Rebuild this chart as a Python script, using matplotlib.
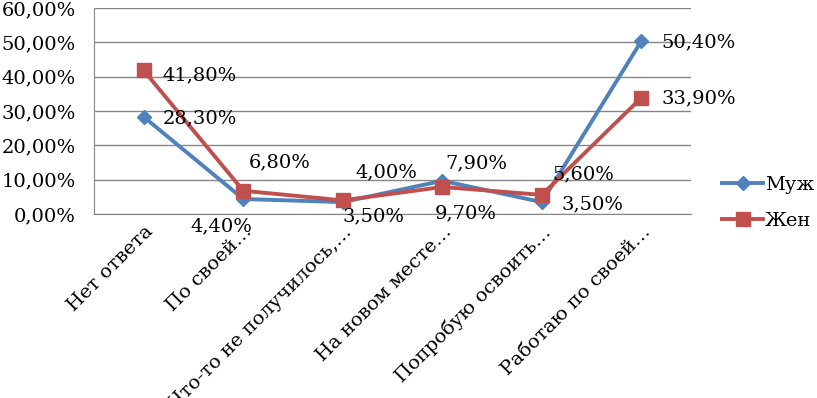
import matplotlib
matplotlib.use('Agg')
import matplotlib.pyplot as plt

plt.rcParams['font.family'] = ['DejaVu Serif']

categories = ['Нет ответа', 'По своей…', 'Что-то не получилось,…',
              'На новом месте…', 'Попробую освоить…', 'Работаю по своей…']
men = [28.3, 4.4, 3.5, 9.7, 3.5, 50.4]
women = [41.8, 6.8, 4.0, 7.9, 5.6, 33.9]
yticks = [0, 10, 20, 30, 40, 50, 60]

# label offsets in pixels (dx to left edge of text, dy to text centre)
men_off = [(19, -1), (-53, -27), (0, -14), (-8, -33), (20, -2), (20, -1)]
women_off = [(19, -5), (5, 28), (13, 28), (3, 24), (10, 21), (20, -1)]

blue = '#4F81BD'
red = '#C0504D'
fs = 14

fig = plt.figure(figsize=(8.17, 3.98), dpi=100)
ax = fig.add_axes([0.115, 0.462, 0.731, 0.518])

x = list(range(len(categories)))
l1, = ax.plot(x, men, color=blue, lw=2.8, marker='D', markersize=7.5, label='Муж')
l2, = ax.plot(x, women, color=red, lw=2.8, marker='s', markersize=9.5, label='Жен')

def fmt(v):
    return ('%.2f%%' % v).replace('.', ',')

for xi, v, (dx, dy) in zip(x, men, men_off):
    ax.annotate(fmt(v), (xi, v), xytext=(dx, dy), textcoords='offset pixels',
                ha='left', va='center', fontsize=fs)
for xi, v, (dx, dy) in zip(x, women, women_off):
    ax.annotate(fmt(v), (xi, v), xytext=(dx, dy), textcoords='offset pixels',
                ha='left', va='center', fontsize=fs)

ax.set_xlim(-0.5, len(categories) - 0.5)
ax.set_ylim(0, 60)
ax.set_yticks(yticks)
ax.set_yticklabels([fmt(v) for v in yticks], fontsize=fs)
ax.set_xticks(x)
ax.set_xticklabels(categories, rotation=45, ha='right', rotation_mode='anchor', fontsize=fs)
ax.tick_params(axis='y', length=0, pad=13)
ax.tick_params(axis='x', length=0, pad=6)
ax.grid(axis='y', color='#868686', lw=1)
ax.set_axisbelow(True)
for s in ['top', 'right']:
    ax.spines[s].set_visible(False)
for s in ['left', 'bottom']:
    ax.spines[s].set_color('#868686')

fig.legend(handles=[l1, l2], loc='center left', bbox_to_anchor=(0.884, 0.49),
           frameon=False, fontsize=fs, handlelength=2.1, labelspacing=0.95,
           handletextpad=0.1, borderpad=0, borderaxespad=0)

fig.savefig('out.png', dpi=100)
